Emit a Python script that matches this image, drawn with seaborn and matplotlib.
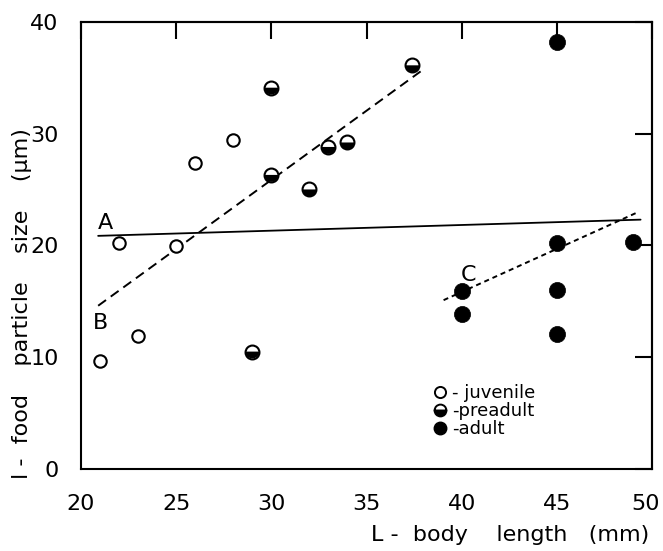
"""Food particle size vs body length, by developmental stage."""
import matplotlib
matplotlib.use("Agg")
import matplotlib.pyplot as plt
import matplotlib.lines as mlines
import matplotlib.transforms as mtrans
from matplotlib.markers import MarkerStyle
import seaborn as sns

# data
juv_len = [21, 22, 23, 25, 26, 28]
juv_size = [9.7, 20.2, 11.9, 19.9, 27.4, 29.4]
pre_len = [29, 30, 30, 32, 33, 34, 37.4]
pre_size = [10.5, 26.3, 34.1, 25.0, 28.8, 29.2, 36.1]
adu_len = [40, 40, 45, 45, 45, 45, 49]
adu_size = [15.9, 13.9, 38.2, 20.2, 16.0, 12.1, 20.3]

# fitted lines (end points as drawn)
line_a_x = [20.9, 49.4]
line_a_y = [20.85, 22.3]
line_b_x = [20.9, 38.0]
line_b_y = [14.6, 35.75]
line_c_x = [39.05, 49.3]
line_c_y = [15.1, 23.0]

xticks = [20, 25, 30, 35, 40, 45, 50]
yticks = [0, 10, 20, 30, 40]

sns.set_style("white")
plt.rcParams['font.family'] = ['Liberation Sans Narrow', 'DejaVu Sans Condensed',
                               'DejaVu Sans']
plt.rcParams['axes.linewidth'] = 1.5
for key in ['text.color', 'axes.labelcolor', 'xtick.color', 'ytick.color']:
    plt.rcParams[key] = 'black'

fig = plt.figure(figsize=(6.63, 5.51), dpi=100)
ax = fig.add_axes([0.1222, 0.1488, 0.8612, 0.8118])

# regression lines
sns.lineplot(x=line_a_x, y=line_a_y, ax=ax, color='black', linewidth=1.3)
sns.lineplot(x=line_b_x, y=line_b_y, ax=ax, color='black', linewidth=1.4,
             linestyle=(0, (5, 3)))
sns.lineplot(x=line_c_x, y=line_c_y, ax=ax, color='black', linewidth=1.4,
             linestyle=(0, (2.6, 2)))

# juveniles - open circles
sns.scatterplot(x=juv_len, y=juv_size, ax=ax, s=80, marker='o',
                facecolor='white', edgecolor='black', linewidth=1.5, zorder=3)
# preadults - half filled circles
sns.scatterplot(x=pre_len, y=pre_size, ax=ax, s=100, marker='o',
                facecolor='white', edgecolor='black', linewidth=1.5, zorder=3)
sns.scatterplot(x=pre_len, y=pre_size, ax=ax, s=100,
                marker=MarkerStyle('o', fillstyle='bottom'),
                color='black', edgecolor='none', linewidth=0, zorder=4)
# adults - filled circles
sns.scatterplot(x=adu_len, y=adu_size, ax=ax, s=135, marker='o',
                color='black', edgecolor='black', linewidth=0.5, zorder=3)

# line letters
ax.text(21.3, 22.0, 'A', fontsize=16, ha='center', va='center')
ax.text(21.0, 13.1, 'B', fontsize=16, ha='center', va='center')
ax.text(40.35, 17.35, 'C', fontsize=16, ha='center', va='center')

# legend
h_juv = mlines.Line2D([], [], ls='', marker='o', ms=8, mfc='white',
                      mec='black', mew=1.4)
h_pre = mlines.Line2D([], [], ls='', marker='o', ms=8.5, fillstyle='bottom',
                      mfc='black', mfcalt='white', mec='black', mew=1.4)
h_adu = mlines.Line2D([], [], ls='', marker='o', ms=9, color='black')
ax.legend([h_juv, h_pre, h_adu], ['- juvenile', '-preadult', '-adult'],
          loc='upper left', bbox_to_anchor=(0.60, 0.21), frameon=False,
          fontsize=13, handlelength=0.8, handletextpad=0.3,
          labelspacing=0.0, borderpad=0.0)

ax.set_xlim(20, 50)
ax.set_ylim(0, 40)
ax.set_xticks(xticks)
ax.set_yticks(yticks)
ax.tick_params(axis='x', direction='out', length=9, width=1.5,
               labelsize=16, pad=9)
ax.tick_params(axis='y', direction='out', length=12, width=1.5,
               labelsize=16, pad=4)

# keep the last x label inside the figure
last = ax.get_xticklabels()[-1]
last.set_transform(last.get_transform()
                   + mtrans.ScaledTranslation(-6 / 100, 0, fig.dpi_scale_trans))

# inward ticks on top and right
top = ax.secondary_xaxis('top')
top.set_xticks(xticks)
top.tick_params(direction='in', length=12, width=1.5, labeltop=False)
right = ax.secondary_yaxis('right')
right.set_yticks(yticks)
right.tick_params(direction='in', length=12, width=1.5, labelright=False)

ax.set_xlabel('L -  body    length   (mm)', fontsize=16, va='center')
ax.xaxis.set_label_coords(0.751, -0.148)
ax.set_ylabel('l -  food    particle    size    (μm)', fontsize=16,
              va='center')
ax.yaxis.set_label_coords(-0.103, 0.369)

for sp in ax.spines.values():
    sp.set_color('black')
    sp.set_linewidth(1.5)

fig.savefig('out.png', dpi=100)
